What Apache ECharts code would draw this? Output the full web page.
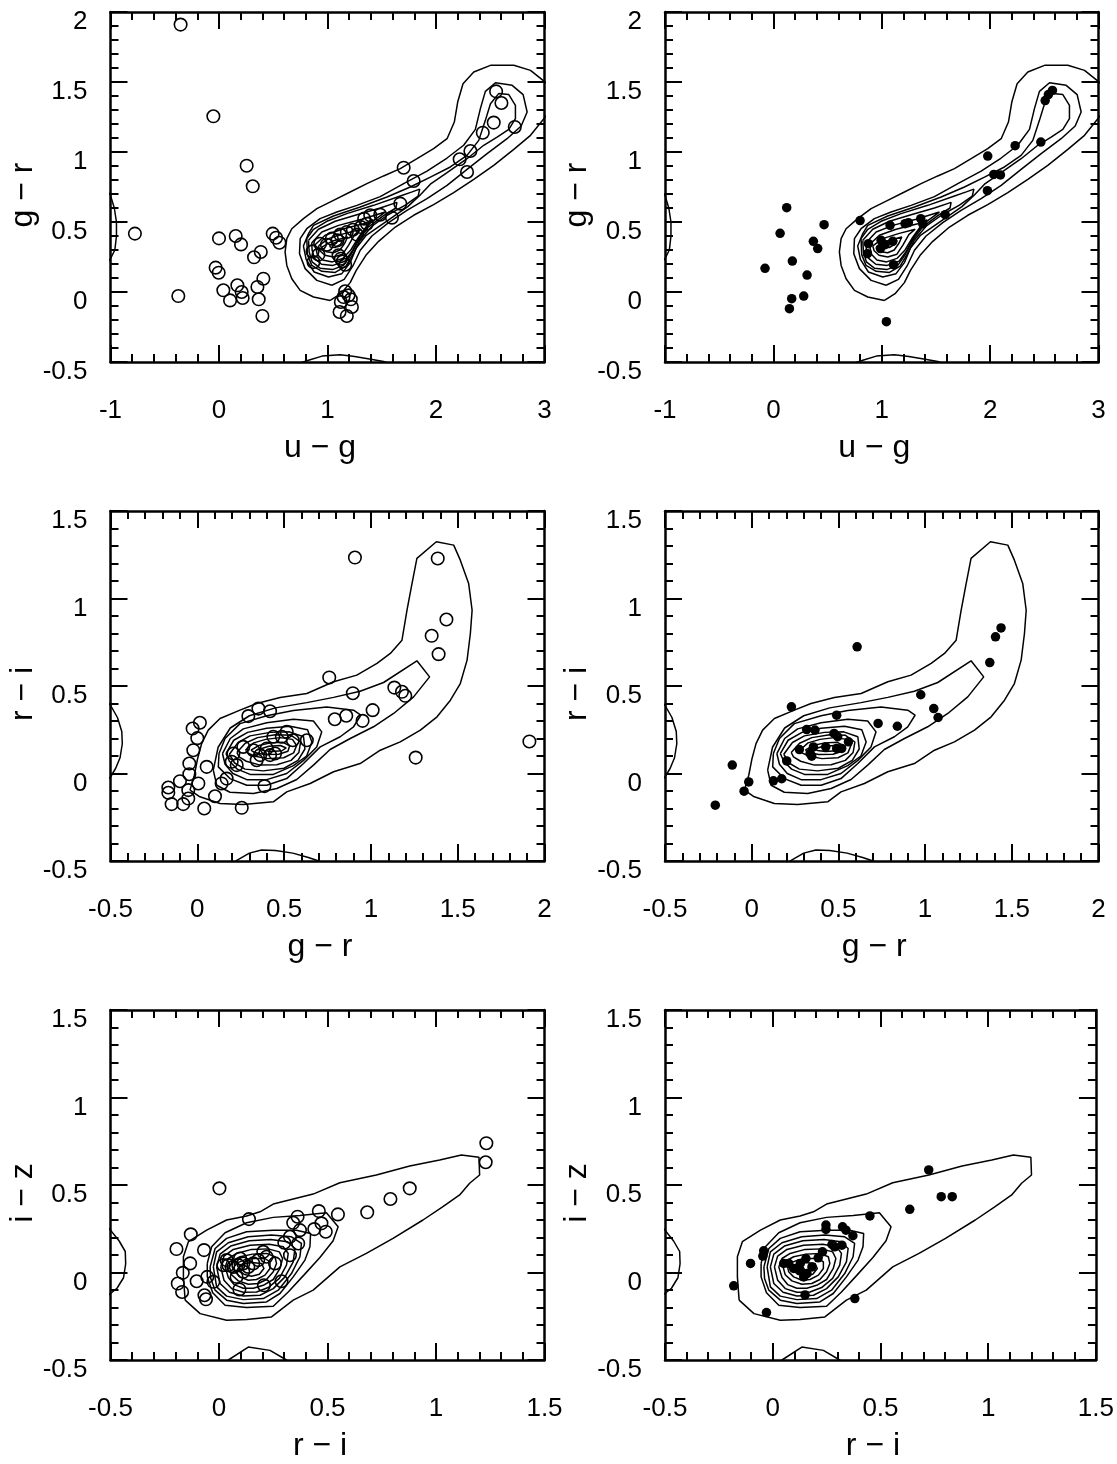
<!DOCTYPE html>
<html><head><meta charset="utf-8">
<script src="https://cdn.jsdelivr.net/npm/echarts@6/dist/echarts.min.js"></script>
<style>html,body{margin:0;padding:0;background:#fff}#c{width:1117px;height:1464px}</style>
</head><body><div id="c"></div>
<script>
// ---------- axis ranges [min, max, interval] ----------
const ugRange = [-1, 3, 1];
const grRangeTopY = [-0.5, 2, 0.5];
const grRangeX = [-0.5, 2, 0.5];
const riRangeY = [-0.5, 1.5, 0.5];
const riRangeX = [-0.5, 1.5, 0.5];
const izRangeY = [-0.5, 1.5, 0.5];

// ---------- scatter points ----------
const ugGrOpen = [[-0.354,1.91],[-0.052,1.255],[0.255,0.902],[0.311,0.755],[-0.775,0.417],[0.0,0.383],[0.154,0.4],[0.203,0.34],[0.495,0.417],[0.526,0.388],[0.557,0.352],[0.385,0.286],[0.323,0.248],[-0.031,0.174],[-0.003,0.138],[0.409,0.095],[0.354,0.036],[0.169,0.048],[0.04,0.012],[0.209,0.0],[0.218,-0.043],[0.102,-0.06],[0.366,-0.052],[-0.375,-0.029],[0.4,-0.171],
[1.163,0.005],[1.194,-0.024],[1.215,-0.052],[1.123,-0.071],[1.225,-0.107],[1.111,-0.143],[1.178,-0.171],[1.148,-0.036],
[1.702,0.888],[1.794,0.793],[2.218,0.948],[2.317,1.007],[2.286,0.857],[2.431,1.138],[2.532,1.21],[2.726,1.179],[2.554,1.433],[2.603,1.35],
[0.862,0.29],[0.871,0.214],[0.917,0.267],[0.932,0.345],[0.994,0.338],[1.04,0.381],[1.092,0.369],[1.117,0.41],[1.178,0.429],[1.234,0.445],[1.271,0.41],[1.308,0.464],[1.363,0.488],[1.338,0.524],[1.394,0.548],[1.486,0.552],[1.594,0.531],[1.671,0.631],[1.123,0.238],[1.142,0.219],[1.163,0.195],[1.102,0.262]];
const ugGrFilled = [[0.123,0.602],[0.062,0.419],[0.468,0.481],[0.369,0.362],[0.409,0.31],[0.175,0.221],[-0.077,0.169],[0.311,0.121],[0.28,-0.029],[0.169,-0.048],[0.148,-0.119],[1.043,-0.212],[0.8,0.51],[0.877,0.345],[0.868,0.274],[0.994,0.369],[0.988,0.31],[1.077,0.476],[1.102,0.362],[1.108,0.195],[1.215,0.488],[1.246,0.495],[1.36,0.524],[1.378,0.488],[1.585,0.552],[1.978,0.971],[2.231,1.045],[2.468,1.071],[2.034,0.84],[2.095,0.836],[1.975,0.724],[2.508,1.367],[2.538,1.41],[2.575,1.44],[1.031,0.338]];
const grRiOpen = [[0.908,1.234],[1.385,1.229],[1.435,0.88],[1.35,0.787],[1.39,0.682],[0.76,0.549],[0.896,0.459],[1.135,0.491],[1.179,0.467],[1.198,0.444],[1.01,0.362],[0.858,0.33],[0.792,0.31],[0.952,0.301],[1.913,0.183],[1.258,0.091],[0.352,0.371],[0.419,0.356],[0.294,0.328],[0.015,0.29],[-0.027,0.257],[0.0,0.202],[-0.023,0.133],[-0.046,0.057],[0.054,0.038],[-0.046,-0.004],[-0.1,-0.044],[-0.167,-0.08],[-0.167,-0.11],[-0.148,-0.175],[-0.081,-0.175],[-0.052,-0.143],[-0.052,-0.095],[0.006,-0.057],[0.04,-0.2],[0.102,-0.13],[0.14,-0.057],[0.169,-0.029],[0.256,-0.196],[0.387,-0.072],[0.208,0.114],[0.198,0.067],[0.227,0.048],[0.265,0.152],[0.323,0.133],[0.342,0.076],[0.362,0.105],[0.4,0.143],[0.419,0.105],[0.448,0.114],[0.438,0.21],[0.487,0.21],[0.515,0.238],[0.55,0.19],[0.631,0.19]];
const grRiFilled = [[0.608,0.724],[1.438,0.832],[1.406,0.781],[1.373,0.634],[0.975,0.45],[1.05,0.371],[1.075,0.32],[0.84,0.27],[0.729,0.286],[0.229,0.381],[0.49,0.333],[0.317,0.251],[0.365,0.248],[0.475,0.229],[0.496,0.21],[0.558,0.181],[0.427,0.152],[0.49,0.143],[0.519,0.143],[0.275,0.137],[0.356,0.152],[0.337,0.114],[0.346,0.099],[0.202,0.072],[-0.112,0.048],[0.125,-0.042],[0.173,-0.03],[-0.017,-0.048],[-0.044,-0.101],[-0.21,-0.181]];
const riIzOpen = [[1.232,0.739],[1.229,0.63],[0.879,0.481],[0.79,0.42],[0.683,0.344],[0.548,0.332],[0.46,0.351],[0.472,0.281],[0.492,0.233],[0.439,0.248],[0.362,0.319],[0.342,0.284],[0.373,0.242],[0.365,0.166],[0.327,0.204],[0.301,0.17],[0.327,0.099],[0.258,0.052],[0.288,-0.05],[0.207,-0.073],[0.094,-0.097],[0.138,0.305],[0.002,0.481],[-0.13,0.218],[-0.196,0.134],[-0.069,0.128],[-0.133,0.052],[-0.167,-0.002],[-0.19,-0.063],[-0.17,-0.111],[-0.103,-0.05],[-0.054,-0.025],[-0.026,-0.053],[-0.067,-0.13],[-0.06,-0.153],[0.043,0.042],[0.066,0.032],[0.089,0.042],[0.112,0.052],[0.135,0.032],[0.158,0.052],[0.181,0.071],[0.204,0.118],[0.219,0.09],[0.112,0.004],[0.081,-0.025],[0.02,0.042],[0.097,0.08],[0.035,0.071]];
const riIzFilled = [[0.724,0.586],[0.782,0.433],[0.833,0.433],[0.636,0.361],[0.451,0.323],[0.247,0.271],[0.247,0.246],[0.324,0.261],[0.34,0.242],[0.372,0.21],[0.275,0.16],[0.321,0.156],[0.287,0.147],[0.231,0.118],[0.211,0.084],[0.182,0.032],[0.154,0.08],[0.128,0.052],[0.097,0.023],[0.128,0.013],[0.144,-0.025],[0.074,0.052],[0.051,0.052],[-0.042,0.124],[-0.046,0.094],[-0.103,0.052],[-0.181,-0.076],[-0.029,-0.229],[0.15,-0.128],[0.381,-0.149],[0.159,-0.006]];

// ---------- density contour polylines (data coordinates) ----------
const ugGrContours = [
 [[1.025,-0.06],[0.871,-0.036],[0.748,0.012],[0.671,0.095],[0.625,0.19],[0.609,0.286],[0.625,0.381],[0.671,0.452],[0.778,0.524],[0.902,0.595],[1.055,0.655],[1.209,0.714],[1.363,0.774],[1.517,0.829],[1.671,0.881],[1.825,0.952],[1.978,1.024],[2.102,1.095],[2.169,1.214],[2.2,1.357],[2.249,1.488],[2.348,1.571],[2.502,1.619],[2.717,1.619],[2.871,1.583],[3.025,1.488],[3.117,1.357],[2.994,1.238],[2.871,1.119],[2.717,1.019],[2.532,0.905],[2.348,0.805],[2.163,0.71],[1.978,0.624],[1.794,0.548],[1.625,0.464],[1.471,0.362],[1.354,0.262],[1.265,0.155],[1.209,0.067],[1.123,-0.012],[1.025,-0.06]],
 [[1.04,0.048],[0.902,0.083],[0.794,0.167],[0.742,0.274],[0.748,0.381],[0.809,0.452],[0.932,0.524],[1.086,0.571],[1.271,0.619],[1.486,0.681],[1.702,0.774],[1.917,0.864],[2.102,0.957],[2.255,1.048],[2.363,1.162],[2.409,1.31],[2.455,1.433],[2.548,1.495],[2.702,1.476],[2.803,1.41],[2.84,1.286],[2.785,1.186],[2.655,1.095],[2.471,0.988],[2.286,0.876],[2.102,0.762],[1.917,0.667],[1.732,0.583],[1.563,0.495],[1.409,0.4],[1.302,0.298],[1.234,0.186],[1.154,0.09],[1.04,0.048]],
 [[0.825,0.417],[0.871,0.476],[1.055,0.543],[1.302,0.607],[1.548,0.679],[1.763,0.75],[1.948,0.821],[2.132,0.893],[2.286,0.976],[2.394,1.083],[2.455,1.226],[2.502,1.345],[2.578,1.417],[2.671,1.41],[2.732,1.333],[2.732,1.238],[2.671,1.162],[2.563,1.107],[2.44,1.048],[2.286,0.952],[2.102,0.852],[1.948,0.77],[1.85,0.69],[1.74,0.61],[1.6,0.535],[1.46,0.46],[1.357,0.405],[1.265,0.314],[1.209,0.21],[1.132,0.131],[1.009,0.107],[0.877,0.143],[0.803,0.233],[0.778,0.329],[0.825,0.417]],
 [[0.809,0.381],[0.871,0.448],[0.994,0.505],[1.178,0.56],[1.425,0.619],[1.671,0.686],[1.78,0.715],[1.85,0.735],[1.835,0.685],[1.717,0.62],[1.554,0.55],[1.409,0.47],[1.30,0.37],[1.235,0.27],[1.17,0.185],[1.071,0.14],[0.948,0.148],[0.855,0.19],[0.815,0.267],[0.809,0.381]],
 [[0.825,0.369],[0.917,0.448],[1.071,0.505],[1.271,0.552],[1.486,0.6],[1.64,0.64],[1.63,0.6],[1.517,0.545],[1.378,0.465],[1.286,0.37],[1.215,0.265],[1.148,0.19],[1.046,0.16],[0.932,0.17],[0.858,0.215],[0.831,0.286],[0.825,0.369]],
 [[0.855,0.352],[0.948,0.429],[1.102,0.476],[1.317,0.519],[1.532,0.571],[1.51,0.558],[1.39,0.49],[1.30,0.4],[1.23,0.295],[1.16,0.22],[1.05,0.19],[0.945,0.198],[0.88,0.24],[0.858,0.3],[0.855,0.352]],
 [[0.886,0.338],[0.978,0.405],[1.132,0.448],[1.332,0.488],[1.42,0.515],[1.36,0.47],[1.285,0.39],[1.215,0.3],[1.14,0.24],[1.045,0.215],[0.955,0.228],[0.905,0.27],[0.886,0.338]],
 [[0.917,0.329],[1.009,0.381],[1.154,0.417],[1.308,0.448],[1.25,0.41],[1.195,0.335],[1.14,0.27],[1.055,0.25],[0.975,0.262],[0.93,0.295],[0.917,0.329]],
 [[0.948,0.321],[1.04,0.362],[1.185,0.393],[1.16,0.35],[1.115,0.3],[1.055,0.28],[0.99,0.288],[0.955,0.305],[0.948,0.321]],
 [[1.02,0.335],[1.09,0.36],[1.14,0.37],[1.12,0.34],[1.07,0.318],[1.025,0.322],[1.02,0.335]],
 [[-1.08,0.78],[-1,0.69],[-0.965,0.6],[-0.945,0.5],[-0.945,0.4],[-0.96,0.3],[-1,0.238],[-1.08,0.17]],
 [[0.7,-0.52],[0.825,-0.488],[0.95,-0.458],[1.117,-0.448],[1.25,-0.46],[1.4,-0.48],[1.517,-0.497],[1.6,-0.52]]
];
const grRiContours = [
 [[-0.042,-0.095],[0.015,-0.133],[0.131,-0.171],[0.265,-0.177],[0.438,-0.162],[0.515,-0.105],[0.65,-0.057],[0.785,0.01],[0.938,0.057],[1.054,0.133],[1.169,0.181],[1.285,0.248],[1.381,0.324],[1.458,0.419],[1.515,0.514],[1.554,0.648],[1.573,0.8],[1.583,0.933],[1.563,1.086],[1.515,1.219],[1.477,1.305],[1.377,1.324],[1.265,1.229],[1.237,1.086],[1.208,0.933],[1.179,0.762],[1.112,0.686],[1.035,0.629],[0.919,0.562],[0.785,0.524],[0.631,0.457],[0.477,0.434],[0.342,0.4],[0.246,0.362],[0.131,0.314],[0.063,0.248],[0.025,0.171],[0.002,0.086],[-0.017,-0.01],[-0.042,-0.095]],
 [[0.092,0.019],[0.12,0.15],[0.19,0.26],[0.3,0.33],[0.45,0.375],[0.631,0.405],[0.785,0.435],[0.938,0.47],[1.073,0.52],[1.265,0.644],[1.338,0.552],[1.246,0.438],[1.131,0.343],[1.015,0.267],[0.881,0.2],[0.765,0.137],[0.669,0.048],[0.573,-0.034],[0.458,-0.086],[0.323,-0.114],[0.188,-0.107],[0.112,-0.067],[0.092,0.019]],
 [[0.125,0.114],[0.16,0.2],[0.246,0.285],[0.4,0.33],[0.554,0.36],[0.746,0.38],[0.9,0.362],[0.942,0.333],[0.9,0.267],[0.823,0.21],[0.708,0.152],[0.612,0.057],[0.515,-0.029],[0.4,-0.067],[0.285,-0.067],[0.188,-0.029],[0.121,0.038],[0.125,0.114]],
 [[0.145,0.114],[0.19,0.2],[0.265,0.255],[0.4,0.29],[0.554,0.31],[0.669,0.3],[0.717,0.238],[0.688,0.152],[0.612,0.075],[0.515,0.0],[0.4,-0.035],[0.285,-0.035],[0.205,0.0],[0.16,0.053],[0.145,0.114]],
 [[0.165,0.114],[0.21,0.19],[0.29,0.235],[0.4,0.258],[0.535,0.27],[0.635,0.25],[0.66,0.18],[0.63,0.1],[0.554,0.045],[0.438,-0.005],[0.304,-0.005],[0.23,0.025],[0.185,0.07],[0.165,0.114]],
 [[0.185,0.11],[0.235,0.177],[0.304,0.215],[0.419,0.235],[0.531,0.238],[0.612,0.21],[0.62,0.14],[0.58,0.075],[0.5,0.03],[0.38,0.015],[0.275,0.025],[0.215,0.06],[0.185,0.11]],
 [[0.228,0.12],[0.276,0.173],[0.347,0.205],[0.449,0.222],[0.541,0.218],[0.595,0.18],[0.585,0.12],[0.54,0.075],[0.458,0.05],[0.362,0.048],[0.282,0.07],[0.241,0.095],[0.228,0.12]],
 [[0.277,0.133],[0.325,0.175],[0.394,0.195],[0.478,0.205],[0.548,0.195],[0.572,0.16],[0.555,0.118],[0.498,0.09],[0.405,0.085],[0.328,0.1],[0.29,0.118],[0.277,0.133]],
 [[0.309,0.133],[0.355,0.16],[0.421,0.175],[0.494,0.178],[0.532,0.158],[0.522,0.127],[0.469,0.11],[0.386,0.108],[0.33,0.12],[0.309,0.133]],
 [[0.363,0.14],[0.412,0.156],[0.479,0.16],[0.512,0.146],[0.488,0.13],[0.425,0.126],[0.379,0.132],[0.363,0.14]],
 [[-0.56,0.45],[-0.5,0.39],[-0.46,0.32],[-0.435,0.24],[-0.432,0.17],[-0.445,0.09],[-0.47,0.03],[-0.5,-0.02],[-0.56,-0.07]],
 [[0.18,-0.53],[0.23,-0.495],[0.3,-0.455],[0.37,-0.437],[0.45,-0.44],[0.55,-0.455],[0.64,-0.48],[0.7,-0.5],[0.75,-0.53]]
];
const riIzContours = [
 [[-0.156,-0.158],[-0.087,-0.235],[0.035,-0.273],[0.127,-0.269],[0.242,-0.254],[0.342,-0.158],[0.434,-0.101],[0.557,0.032],[0.679,0.109],[0.802,0.195],[0.94,0.3],[1.032,0.376],[1.109,0.443],[1.155,0.51],[1.201,0.557],[1.198,0.658],[1.117,0.672],[1.017,0.643],[0.879,0.609],[0.725,0.557],[0.557,0.513],[0.434,0.448],[0.342,0.42],[0.25,0.391],[0.189,0.347],[0.127,0.323],[0.035,0.3],[-0.057,0.242],[-0.141,0.176],[-0.164,0.09],[-0.164,-0.025],[-0.156,-0.158]],
 [[-0.054,0.052],[-0.034,0.147],[0.028,0.227],[0.127,0.284],[0.25,0.315],[0.373,0.326],[0.495,0.342],[0.549,0.261],[0.526,0.181],[0.465,0.086],[0.391,-0.015],[0.319,-0.111],[0.25,-0.193],[0.127,-0.2],[0.028,-0.187],[-0.029,-0.116],[-0.054,-0.025],[-0.054,0.052]],
 [[-0.041,0.032],[-0.018,0.137],[0.035,0.195],[0.127,0.233],[0.25,0.242],[0.357,0.242],[0.422,0.223],[0.419,0.147],[0.396,0.071],[0.342,-0.025],[0.281,-0.12],[0.219,-0.168],[0.112,-0.177],[0.035,-0.158],[-0.018,-0.101],[-0.038,-0.034],[-0.041,0.032]],
 [[-0.026,0.032],[-0.011,0.118],[0.043,0.17],[0.135,0.204],[0.242,0.214],[0.334,0.204],[0.38,0.166],[0.373,0.09],[0.334,-0.006],[0.273,-0.101],[0.204,-0.149],[0.112,-0.155],[0.035,-0.135],[-0.011,-0.082],[-0.026,0.032]],
 [[-0.011,0.032],[0.005,0.105],[0.054,0.151],[0.14,0.181],[0.238,0.189],[0.316,0.176],[0.35,0.137],[0.342,0.061],[0.304,-0.025],[0.25,-0.092],[0.189,-0.13],[0.112,-0.134],[0.048,-0.113],[0.005,-0.063],[-0.011,0.032]],
 [[0.008,0.032],[0.023,0.094],[0.066,0.132],[0.143,0.156],[0.232,0.162],[0.296,0.147],[0.319,0.109],[0.311,0.042],[0.278,-0.034],[0.227,-0.086],[0.173,-0.111],[0.112,-0.113],[0.058,-0.092],[0.023,-0.044],[0.008,0.032]],
 [[0.028,0.032],[0.043,0.08],[0.081,0.109],[0.15,0.132],[0.227,0.135],[0.278,0.118],[0.293,0.08],[0.281,0.023],[0.25,-0.04],[0.204,-0.073],[0.158,-0.09],[0.112,-0.09],[0.069,-0.069],[0.043,-0.029],[0.028,0.032]],
 [[0.048,0.032],[0.063,0.067],[0.097,0.09],[0.155,0.105],[0.219,0.109],[0.258,0.09],[0.265,0.052],[0.25,0.004],[0.219,-0.04],[0.181,-0.063],[0.135,-0.067],[0.089,-0.048],[0.058,-0.013],[0.048,0.032]],
 [[0.069,0.032],[0.084,0.055],[0.115,0.071],[0.161,0.08],[0.212,0.08],[0.235,0.061],[0.235,0.023],[0.212,-0.015],[0.173,-0.04],[0.135,-0.044],[0.097,-0.025],[0.074,0.004],[0.069,0.032]],
 [[0.094,0.032],[0.112,0.048],[0.15,0.057],[0.196,0.052],[0.207,0.023],[0.186,-0.01],[0.15,-0.021],[0.115,-0.01],[0.097,0.01],[0.094,0.032]],
 [[-0.56,0.31],[-0.5,0.242],[-0.46,0.18],[-0.432,0.12],[-0.43,0.05],[-0.44,-0.03],[-0.47,-0.09],[-0.5,-0.12],[-0.56,-0.17]],
 [[0.0,-0.55],[0.043,-0.5],[0.135,-0.426],[0.235,-0.445],[0.311,-0.5],[0.34,-0.55]]
];

// ---------- panel definitions ----------
const panels = [
 {col:0,row:0,xr:ugRange,yr:grRangeTopY,xn:'u − g',yn:'g − r',pts:ugGrOpen,filled:false,cont:ugGrContours},
 {col:1,row:0,xr:ugRange,yr:grRangeTopY,xn:'u − g',yn:'g − r',pts:ugGrFilled,filled:true,cont:ugGrContours},
 {col:0,row:1,xr:grRangeX,yr:riRangeY,xn:'g − r',yn:'r − i',pts:grRiOpen,filled:false,cont:grRiContours},
 {col:1,row:1,xr:grRangeX,yr:riRangeY,xn:'g − r',yn:'r − i',pts:grRiFilled,filled:true,cont:grRiContours},
 {col:0,row:2,xr:riRangeX,yr:izRangeY,xn:'r − i',yn:'i − z',pts:riIzOpen,filled:false,cont:riIzContours},
 {col:1,row:2,xr:riRangeX,yr:izRangeY,xn:'r − i',yn:'i − z',pts:riIzFilled,filled:true,cont:riIzContours}
];

const FONT = '"Liberation Sans", Arial, Helvetica, sans-serif';
const colLeft = [110.5, 665];
const colWidth = [434, 433.5];
const rowTop = [12, 511, 1010];
const H = 350;

function axisBase(r, pos, gi) {
  return {
    type: 'value', gridIndex: gi, position: pos, min: r[0], max: r[1], interval: r[2],
    axisLine: { show: true, onZero: false, lineStyle: { color: '#000', width: 2.5 } },
    axisTick: { show: true, inside: true, length: 17, lineStyle: { color: '#000', width: 2 } },
    minorTick: { show: true, splitNumber: 5, length: 8, lineStyle: { color: '#000', width: 2 } },
    splitLine: { show: false }, minorSplitLine: { show: false },
    axisLabel: { show: false }
  };
}

const grid = [], xAxis = [], yAxis = [], series = [];
panels.forEach((p, i) => {
  grid.push({ left: colLeft[p.col], top: rowTop[p.row], width: colWidth[p.col], height: H });
  const xb = axisBase(p.xr, 'bottom', i);
  xb.axisLabel = { show: true, margin: 36, fontSize: 26, color: '#000', fontFamily: FONT, showMinLabel: true, showMaxLabel: true };
  xb.name = p.xn; xb.nameLocation = 'middle'; xb.nameGap = 70;
  xb.nameTextStyle = { fontSize: 32, color: '#000', fontFamily: FONT, padding: [0, 15, 0, 0] };
  const xt = axisBase(p.xr, 'top', i);
  const yl = axisBase(p.yr, 'left', i);
  yl.axisLabel = { show: true, margin: 23, fontSize: 26, color: '#000', fontFamily: FONT, verticalAlign: 'top', lineHeight: 20, showMinLabel: true, showMaxLabel: true };
  yl.name = p.yn; yl.nameLocation = 'middle'; yl.nameGap = 71; yl.nameRotate = 90;
  yl.nameTextStyle = { fontSize: 32, color: '#000', fontFamily: FONT, padding: [0, 16, 0, 0] };
  const yr = axisBase(p.yr, 'right', i);
  const xi = xAxis.length, yi = yAxis.length;
  xAxis.push(xb, xt); yAxis.push(yl, yr);
  p.cont.forEach(line => {
    series.push({
      type: 'line', xAxisIndex: xi, yAxisIndex: yi, data: line,
      showSymbol: false, symbol: 'none', clip: true, silent: true, z: 2,
      lineStyle: { color: '#000', width: 1.5 }
    });
  });
  series.push({
    type: 'scatter', xAxisIndex: xi, yAxisIndex: yi, data: p.pts, silent: true, z: 3,
    symbol: 'circle', symbolSize: p.filled ? 9.5 : 12.5,
    itemStyle: p.filled ? { color: '#000', opacity: 1 } : { color: 'rgba(0,0,0,0)', borderColor: '#000', borderWidth: 1.6, opacity: 1 }
  });
});

const chart = echarts.init(document.getElementById('c'), null, { renderer: 'canvas' });
chart.setOption({ animation: false, backgroundColor: '#fff', grid, xAxis, yAxis, series });
</script>
</body></html>
